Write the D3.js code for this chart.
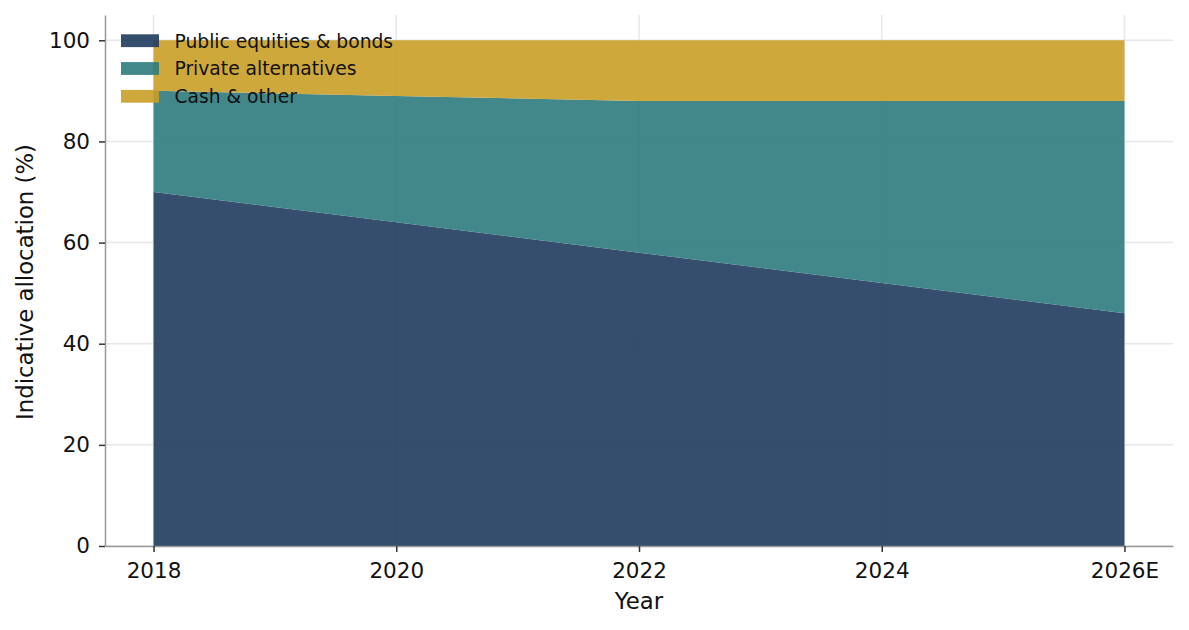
<!DOCTYPE html>
<html><head><meta charset="utf-8">
<script src="https://cdn.jsdelivr.net/npm/d3@7"></script>
<style>body{margin:0;background:#fff}svg{display:block;font-family:"DejaVu Sans",sans-serif}</style>
</head><body><svg id="c" width="1189" height="630"></svg>
<script>
const years = [2018, 2020, 2022, 2024, 2026];
const tickLabels = ["2018", "2020", "2022", "2024", "2026E"];
const publicEq = [70, 64, 58, 52, 46];
const privateAlt = [20, 25, 30, 36, 42];
const cashOther = [10, 11, 12, 12, 12];
const seriesNames = ["Public equities & bonds", "Private alternatives", "Cash & other"];
const colors = ["#1f3b5e", "#2d7a7d", "#ca9f26"];

const svg = d3.select("#c");
const L = 105, R = 1173, T = 15, B = 546;
const x = d3.scaleLinear().domain([2017.6, 2026.4]).range([L, R]);
const y = d3.scaleLinear().domain([0, 105]).range([B, T]);

const rows = years.map((yr, i) => ({year: yr, a: publicEq[i], b: privateAlt[i], c: cashOther[i]}));
const stack = d3.stack().keys(["a", "b", "c"])(rows);

// grid
const g = svg.append("g");
g.selectAll(".gy").data([0,20,40,60,80,100]).join("line")
  .attr("x1", L).attr("x2", R).attr("y1", d => y(d)).attr("y2", d => y(d))
  .attr("stroke", "#e5e7eb").attr("stroke-width", 1.5);
g.selectAll(".gx").data(years).join("line")
  .attr("y1", T).attr("y2", B).attr("x1", d => x(d)).attr("x2", d => x(d))
  .attr("stroke", "#e5e7eb").attr("stroke-width", 1.5);

const area = d3.area().x(d => x(d.data.year)).y0(d => y(d[0])).y1(d => y(d[1]));
svg.append("g").selectAll("path").data(stack).join("path")
  .attr("d", area).attr("fill", (d, i) => colors[i]).attr("fill-opacity", 0.9);

// axes
const xa = svg.append("g").attr("transform", `translate(0,${B})`)
  .call(d3.axisBottom(x).tickValues(years).tickFormat((d, i) => tickLabels[i]).tickSize(6).tickPadding(10.5).tickSizeOuter(0));
const ya = svg.append("g").attr("transform", `translate(${L},0)`)
  .call(d3.axisLeft(y).tickValues([0,20,40,60,80,100]).tickSize(6).tickPadding(9).tickSizeOuter(0));
[xa, ya].forEach(a => {
  a.select(".domain").attr("stroke", "#999").attr("stroke-width", 1.5);
  a.selectAll(".tick line").attr("stroke", "#333").attr("stroke-width", 1.5);
  a.selectAll(".tick text").attr("font-size", 21.5).attr("fill", "#111").attr("font-family", "DejaVu Sans");
});

svg.append("text").attr("x", (L + R) / 2).attr("y", 609).attr("text-anchor", "middle")
  .attr("font-size", 22.8).attr("fill", "#111").text("Year");
svg.append("text").attr("transform", `translate(33,282) rotate(-90)`).attr("text-anchor", "middle")
  .attr("font-size", 22.8).attr("fill", "#111").text("Indicative allocation (%)");

// legend
const lg = svg.append("g");
seriesNames.forEach((n, i) => {
  const yy = 40.7 + i * 27.8;
  lg.append("rect").attr("x", 121).attr("y", yy - 6.4).attr("width", 38).attr("height", 12.8)
    .attr("fill", colors[i]).attr("fill-opacity", 0.9);
  lg.append("text").attr("x", 174.5).attr("y", yy + 6.8).attr("font-size", 18.7).attr("fill", "#111").text(n);
});
</script></body></html>
